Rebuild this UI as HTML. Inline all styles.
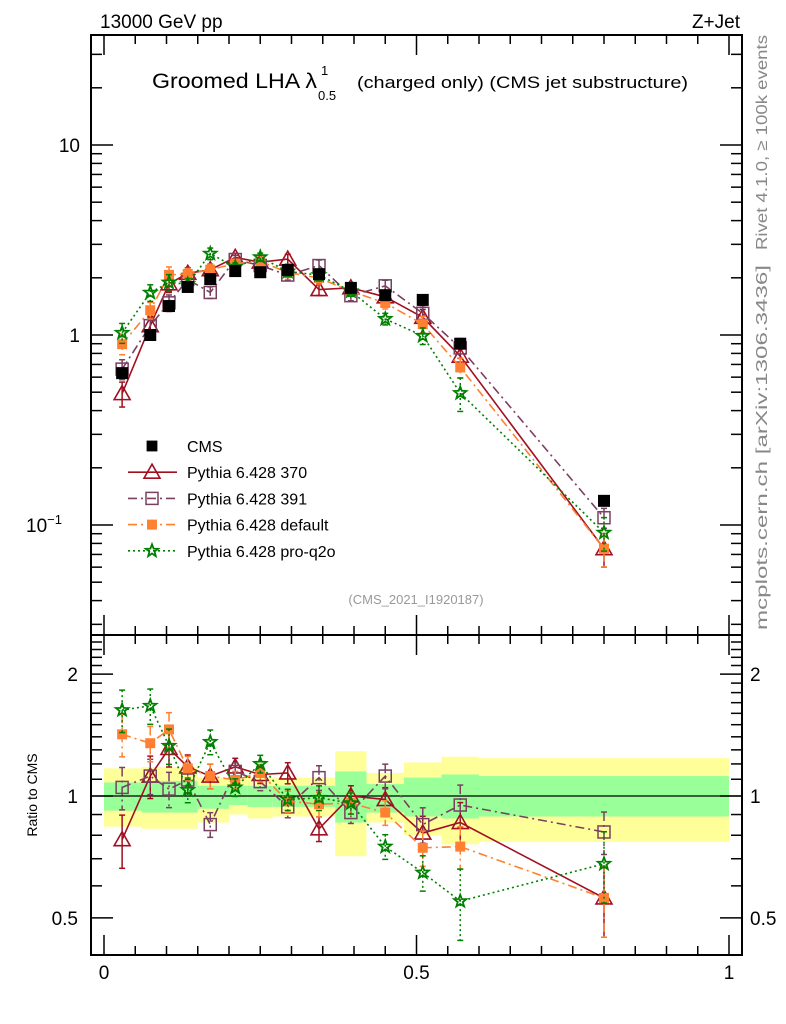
<!DOCTYPE html>
<html><head><meta charset="utf-8"><style>
html,body{margin:0;padding:0;background:#fff;}
svg{display:block;font-family:"Liberation Sans",sans-serif;}
</style></head><body>
<svg id="chart" width="786" height="1024" viewBox="0 0 786 1024" xmlns="http://www.w3.org/2000/svg">
<g id="bands"></g>
<g id="grid"></g>
<g id="series"></g>
<text x="100" y="28" font-size="19">13000 GeV pp</text>
<text x="740" y="28" font-size="19" text-anchor="end">Z+Jet</text>
<text x="152" y="88" font-size="21" textLength="165" lengthAdjust="spacingAndGlyphs">Groomed LHA λ</text>
<text x="321" y="75" font-size="13">1</text>
<text x="318" y="100" font-size="13">0.5</text>
<text x="357" y="88" font-size="17" textLength="331" lengthAdjust="spacingAndGlyphs">(charged only) (CMS jet substructure)</text>
<text x="416" y="604" font-size="13" fill="#999" text-anchor="middle">(CMS_2021_I1920187)</text>
<text transform="translate(767,250) rotate(-90)" font-size="16" fill="#888" textLength="215" lengthAdjust="spacingAndGlyphs">Rivet 4.1.0, ≥ 100k events</text>
<text transform="translate(767,630) rotate(-90)" font-size="16" fill="#888" textLength="365" lengthAdjust="spacingAndGlyphs">mcplots.cern.ch [arXiv:1306.3436]</text>
<text transform="translate(37,795) rotate(-90)" font-size="14" text-anchor="middle">Ratio to CMS</text>
<g id="legend"></g>
</svg>
<script>
const xs = [0.029,0.074,0.104,0.134,0.17,0.21,0.25,0.294,0.344,0.395,0.45,0.51,0.57,0.80];
const binEdges = [0,0.06,0.1,0.12,0.15,0.2,0.23,0.27,0.32,0.37,0.42,0.48,0.54,0.6,1.0];
const cmsVals = [0.63,1.0,1.42,1.79,1.97,2.17,2.14,2.2,2.09,1.77,1.62,1.53,0.9,0.134];
const yellowHi = [1.17,1.18,1.18,1.18,1.11,1.11,1.11,1.11,1.11,1.29,1.14,1.21,1.25,1.24];
const yellowLo = [0.84,0.83,0.83,0.83,0.86,0.90,0.88,0.89,0.89,0.71,0.86,0.80,0.76,0.77];
const greenHi = [1.08,1.09,1.09,1.09,1.06,1.06,1.06,1.06,1.06,1.15,1.07,1.11,1.13,1.12];
const greenLo = [0.92,0.91,0.91,0.91,0.93,0.95,0.94,0.94,0.94,0.86,0.91,0.89,0.88,0.89];
const ratio370 = [0.78,1.12,1.31,1.18,1.12,1.18,1.13,1.14,0.83,1.0,0.98,0.81,0.86,0.56];
const ratio391 = [1.05,1.12,1.04,1.095,0.85,1.15,1.085,0.94,1.11,0.91,1.12,0.85,0.95,0.815];
const ratioDef = [1.42,1.35,1.46,1.17,1.12,1.095,1.14,0.97,0.955,0.96,0.91,0.745,0.75,0.56];
const ratioQ2o = [1.63,1.67,1.33,1.035,1.36,1.05,1.2,0.98,0.99,0.96,0.75,0.647,0.55,0.68];
const err370 = [0.15,0.12,0.1,0.07,0.07,0.05,0.05,0.06,0.07,0.06,0.07,0.1,0.12,0.2];
const err391 = [0.12,0.1,0.1,0.07,0.07,0.05,0.05,0.06,0.07,0.06,0.07,0.1,0.12,0.12];
const errDef = [0.12,0.1,0.1,0.07,0.07,0.05,0.05,0.06,0.07,0.06,0.07,0.1,0.12,0.2];
const errQ2o = [0.12,0.1,0.1,0.07,0.07,0.05,0.05,0.06,0.07,0.06,0.07,0.1,0.2,0.2];
const mainTickLabels = [[10,"10"],[1,"1"]];
const ratioTickLabels = [[2,"2"],[1,"1"],[0.5,"0.5"]];
const xTickLabels = [[0,"0"],[0.5,"0.5"],[1,"1"]];

const NS="http://www.w3.org/2000/svg";
const L=91,R=742,T=35,M=635,B=955;
const X=v=>104+625*v;
const Y=v=>335-190*Math.log10(v);
const YR=v=>796-405*Math.log10(v);
function mk(tag,attrs,parent){const e=document.createElementNS(NS,tag);for(const k in attrs)e.setAttribute(k,attrs[k]);parent.appendChild(e);return e;}
const gB=document.getElementById('bands'),gA=document.getElementById('grid'),gS=document.getElementById('series'),gL=document.getElementById('legend');

for(let i=0;i<xs.length;i++){
  const x0=X(binEdges[i]),x1=X(binEdges[i+1]);
  const y=mk('rect',{x:x0,y:YR(yellowHi[i]),width:x1-x0,height:YR(yellowLo[i])-YR(yellowHi[i]),fill:'#ffff99'},gB);
  
  
  const g=mk('rect',{x:x0,y:YR(greenHi[i]),width:x1-x0,height:YR(greenLo[i])-YR(greenHi[i]),fill:'#99ff99'},gB);
  
  
}
mk('line',{x1:L,x2:R,y1:YR(1),y2:YR(1),stroke:'#000','stroke-width':1.2},gA);

mk('rect',{x:L,y:T,width:R-L,height:M-T,fill:'none',stroke:'#000','stroke-width':2},gA);
mk('rect',{x:L,y:M,width:R-L,height:B-M,fill:'none',stroke:'#000','stroke-width':2},gA);
for(let d=-2;d<=1;d++)for(let m=1;m<10;m++){const v=m*Math.pow(10,d);const y=Y(v);if(y<T||y>M)continue;const len=m==1?22:11;
  mk('line',{x1:L,x2:L+len,y1:y,y2:y,stroke:'#000','stroke-width':1.5},gA);
  mk('line',{x1:R,x2:R-len,y1:y,y2:y,stroke:'#000','stroke-width':1.5},gA);}
mainTickLabels.forEach(([v,t])=>{const e=mk('text',{x:80,y:Y(v)+7,'font-size':19,'text-anchor':'end'},gA);e.textContent=t;
  
  });
{const e=mk('text',{x:62,y:Y(0.1)+7,'font-size':19,'text-anchor':'end'},gA);e.textContent='10';const s=mk('tspan',{'font-size':13,dy:-8},e);s.textContent='−1';
 
 }
for(let v=0.4;v<=2.51;v+=0.1){const y=YR(v);if(y<M||y>B)continue;const maj=Math.abs(v-0.5)<1e-6||Math.abs(v-1)<1e-6||Math.abs(v-2)<1e-6;const len=maj?22:11;
  mk('line',{x1:L,x2:L+len,y1:y,y2:y,stroke:'#000','stroke-width':1.5},gA);
  mk('line',{x1:R,x2:R-len,y1:y,y2:y,stroke:'#000','stroke-width':1.5},gA);}
ratioTickLabels.forEach(([v,t])=>{const e=mk('text',{x:78,y:YR(v)+7,'font-size':19,'text-anchor':'end'},gA);e.textContent=t;
  
  
  const f=mk('text',{x:750,y:YR(v)+7,'font-size':19},gA);f.textContent=t;
  
  });
for(let i=0;i<=20;i++){const v=i*0.05;const x=X(v);const maj=i%10==0;const len=maj?20:9;
  [[M,-1],[B,-1],[T,1],[M,1]].forEach(([y0,dir])=>mk('line',{x1:x,x2:x,y1:y0,y2:y0+dir*len,stroke:'#000','stroke-width':1.5},gA));}
xTickLabels.forEach(([v,t])=>{const e=mk('text',{x:X(v),y:979,'font-size':19,'text-anchor':'middle'},gA);e.textContent=t;
  
  });

function marker(kind,x,y,color,parent,s){
  s=s||1;
  if(kind=='fsq')return mk('rect',{x:x-6*s,y:y-6*s,width:12*s,height:12*s,fill:color},parent);
  if(kind=='osq')return mk('rect',{x:x-6,y:y-6,width:12,height:12,fill:'none',stroke:color,'stroke-width':1.5},parent);
  if(kind=='sq2')return mk('rect',{x:x-5,y:y-5,width:10,height:10,fill:color},parent);
  if(kind=='tri')return mk('path',{d:`M${x},${y-8}L${x+8},${y+6}L${x-8},${y+6}Z`,fill:'none',stroke:color,'stroke-width':1.6},parent);
  if(kind=='star'){let d='';for(let k=0;k<10;k++){const r=k%2?2.7:6.5;const a=-Math.PI/2+k*Math.PI/5;d+=(k?'L':'M')+(x+r*Math.cos(a)).toFixed(1)+','+(y+r*Math.sin(a)).toFixed(1);}
    return mk('path',{d:d+'Z',fill:'none',stroke:color,'stroke-width':1.8},parent);}
}
const series=[
  {name:'pythia-370',label:'Pythia 6.428 370',r:ratio370,e:err370,c:'#a01020',dash:'',m:'tri'},
  {name:'pythia-391',label:'Pythia 6.428 391',r:ratio391,e:err391,c:'#7a4060',dash:'9,4,2,4',m:'osq'},
  {name:'pythia-default',label:'Pythia 6.428 default',r:ratioDef,e:errDef,c:'#ff8030',dash:'9,4,2,4',m:'sq2'},
  {name:'pythia-pro-q2o',label:'Pythia 6.428 pro-q2o',r:ratioQ2o,e:errQ2o,c:'#008000',dash:'2,3',m:'star'}];
series.forEach(s=>{
  const g=mk('g',{},gS);
  
  
  const mainPts=[],ratPts=[];
  xs.forEach((xv,i)=>{const v=cmsVals[i]*s.r[i];mainPts.push([X(xv),Y(v)]);ratPts.push([X(xv),YR(s.r[i])]);});
  mk('polyline',{points:mainPts.map(p=>p.join(',')).join(' '),fill:'none',stroke:s.c,'stroke-width':1.6,'stroke-dasharray':s.dash},g);
  mk('polyline',{points:ratPts.map(p=>p.join(',')).join(' '),fill:'none',stroke:s.c,'stroke-width':1.6,'stroke-dasharray':s.dash},g);
  xs.forEach((xv,i)=>{const x=X(xv);const v=cmsVals[i]*s.r[i];const e=s.e[i];
    [[Y(v*(1+e)),Y(v*(1-e))],[YR(s.r[i]*(1+e)),YR(s.r[i]*(1-e))]].forEach(([a,b])=>{
      mk('line',{x1:x,x2:x,y1:a,y2:b,stroke:s.c,'stroke-width':1.5,'stroke-dasharray':s.dash},g);
      mk('line',{x1:x-3,x2:x+3,y1:a,y2:a,stroke:s.c,'stroke-width':1.5},g);
      mk('line',{x1:x-3,x2:x+3,y1:b,y2:b,stroke:s.c,'stroke-width':1.5},g);});
    const m1=marker(s.m,x,Y(v),s.c,g);
    
    
    const m2=marker(s.m,x,YR(s.r[i]),s.c,g);
    
    
  });
});
{const g=mk('g',{},gS);
 
 
 xs.forEach((xv,i)=>{const m=marker('fsq',X(xv),Y(cmsVals[i]),'#000',g);
  
  });}
{const rows=[{label:'CMS',c:'#000',m:'fsq',dash:null}].concat(series.map(s=>({label:s.label,c:s.c,m:s.m,dash:s.dash})));
 rows.forEach((r,k)=>{const y=446+k*26.2;const g=mk('g',{},gL);
  
  
  if(r.dash!==null)mk('line',{x1:128,x2:177,y1:y,y2:y,stroke:r.c,'stroke-width':1.6,'stroke-dasharray':r.dash},g);
  if(r.m=='fsq')marker('fsq',152,y,r.c,g,0.9);else marker(r.m,152,y,r.c,g);
  const t=mk('text',{x:187,y:y+6,'font-size':16},g);t.textContent=r.label;});}
</script>
</body></html>
